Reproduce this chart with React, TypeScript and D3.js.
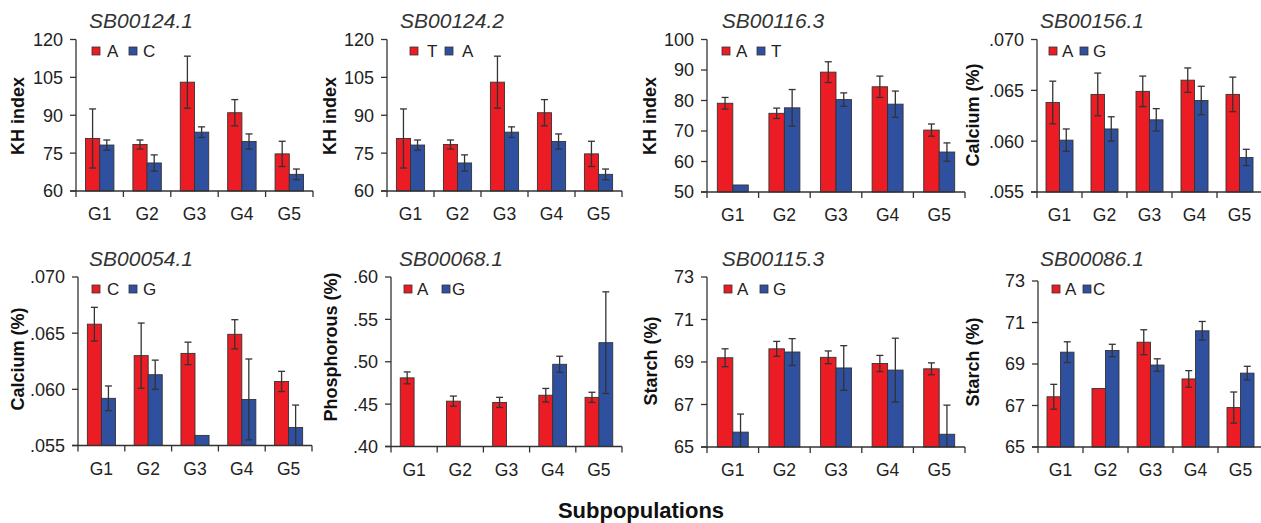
import React from 'react';
import * as d3 from 'd3';

const groups = ['G1', 'G2', 'G3', 'G4', 'G5'];

// SB00124.1 / SB00124.2 (KH index)
const kh124Red = [80.8, 78.4, 103.1, 91.0, 74.7];
const kh124RedErr = [11.7, 1.8, 10.3, 5.2, 5.0];
const kh124Blue = [78.2, 71.1, 83.3, 79.6, 66.6];
const kh124BlueErr = [2.0, 3.2, 2.1, 3.0, 2.1];

// SB00116.3 (KH index)
const kh116Red = [79.1, 75.8, 89.3, 84.5, 70.3];
const kh116RedErr = [1.9, 1.7, 3.4, 3.5, 2.0];
const kh116Blue = [52.3, 77.6, 80.3, 78.8, 63.1];
const kh116BlueErr = [0, 6.0, 2.2, 4.3, 3.0];

// SB00156.1 (calcium)
const ca156Red = [0.0638, 0.0646, 0.0649, 0.066, 0.0646];
const ca156RedErr = [0.0021, 0.0021, 0.0015, 0.0012, 0.0017];
const ca156Blue = [0.0601, 0.0612, 0.0621, 0.064, 0.0584];
const ca156BlueErr = [0.0011, 0.0012, 0.0011, 0.0014, 0.0008];

// SB00054.1 (calcium)
const ca054Red = [0.0658, 0.063, 0.0632, 0.0649, 0.0607];
const ca054RedErr = [0.0015, 0.0029, 0.001, 0.0013, 0.0009];
const ca054Blue = [0.0592, 0.0613, 0.0559, 0.0591, 0.0566];
const ca054BlueErr = [0.0011, 0.0013, 0, 0.0036, 0.002];

// SB00068.1 (phosphorous)
const p068Red = [0.481, 0.4535, 0.452, 0.4605, 0.458];
const p068RedErr = [0.007, 0.006, 0.006, 0.008, 0.006];
const p068Blue = [null, null, null, 0.497, 0.5225];
const p068BlueErr = [0, 0, 0, 0.0095, 0.06];

// SB00115.3 (starch)
const st115Red = [69.2, 69.62, 69.22, 68.93, 68.68];
const st115RedErr = [0.42, 0.35, 0.3, 0.38, 0.28];
const st115Blue = [65.7, 69.47, 68.72, 68.62, 65.6];
const st115BlueErr = [0.85, 0.63, 1.05, 1.5, 1.37];

// SB00086.1 (starch)
const st086Red = [67.42, 67.82, 70.05, 68.28, 66.9];
const st086RedErr = [0.6, 0, 0.6, 0.4, 0.75];
const st086Blue = [69.57, 69.65, 68.95, 70.6, 68.56];
const st086BlueErr = [0.5, 0.3, 0.3, 0.45, 0.33];

const khTicks = [60, 75, 90, 105, 120];
const kh116Ticks = [50, 60, 70, 80, 90, 100];
const caTicks = [0.055, 0.06, 0.065, 0.07];
const pTicks = [0.4, 0.45, 0.5, 0.55, 0.6];
const stTicks = [65, 67, 69, 71, 73];

const RED = '#ec1c24';
const BLUE = '#2f4f9f';
const INK = '#333';
const FONT = 'Liberation Sans, Arial, sans-serif';

const fmtInt = (d: number) => String(d);
const fmtCa = (d: number) => d3.format('.3f')(d).replace(/^0/, '');
const fmtP = (d: number) => d3.format('.2f')(d).replace(/^0/, '');

const panels = [
  { title: 'SB00124.1', ylab: 'KH index', alleles: ['A', 'C'], red: kh124Red, redErr: kh124RedErr, blue: kh124Blue, blueErr: kh124BlueErr, ticks: khTicks, fmt: fmtInt,
    x0: 76, x1: 313, top: 39.5, bottom: 191, tx: 141, lx: 18, ly: 116, leg: [16, 31, 53, 67] },
  { title: 'SB00124.2', ylab: 'KH index', alleles: ['T', 'A'], red: kh124Red, redErr: kh124RedErr, blue: kh124Blue, blueErr: kh124BlueErr, ticks: khTicks, fmt: fmtInt,
    x0: 387, x1: 622, top: 39.5, bottom: 191, tx: 452, lx: 330, ly: 116, leg: [23, 40, 58, 75] },
  { title: 'SB00116.3', ylab: 'KH index', alleles: ['A', 'T'], red: kh116Red, redErr: kh116RedErr, blue: kh116Blue, blueErr: kh116BlueErr, ticks: kh116Ticks, fmt: fmtInt,
    x0: 707, x1: 965, top: 39.5, bottom: 192, tx: 773, lx: 650, ly: 116, leg: [15, 29, 50, 64] },
  { title: 'SB00156.1', ylab: 'Calcium  (%)', alleles: ['A', 'G'], red: ca156Red, redErr: ca156RedErr, blue: ca156Blue, blueErr: ca156BlueErr, ticks: caTicks, fmt: fmtCa,
    x0: 1037, x1: 1262, top: 39.5, bottom: 192, tx: 1092, lx: 973, ly: 115, leg: [12, 25, 43, 56] },
  { title: 'SB00054.1', ylab: 'Calcium  (%)', alleles: ['C', 'G'], red: ca054Red, redErr: ca054RedErr, blue: ca054Blue, blueErr: ca054BlueErr, ticks: caTicks, fmt: fmtCa,
    x0: 78, x1: 312, top: 277, bottom: 445.5, tx: 141, lx: 18, ly: 359, leg: [14, 29, 51, 65] },
  { title: 'SB00068.1', ylab: 'Phosphorous (%)', alleles: ['A', 'G'], red: p068Red, redErr: p068RedErr, blue: p068Blue, blueErr: p068BlueErr, ticks: pTicks, fmt: fmtP,
    x0: 391, x1: 622, top: 277, bottom: 446.5, tx: 451, lx: 331, ly: 347, leg: [13, 26, 51, 61] },
  { title: 'SB00115.3', ylab: 'Starch (%)', alleles: ['A', 'G'], red: st115Red, redErr: st115RedErr, blue: st115Blue, blueErr: st115BlueErr, ticks: stTicks, fmt: fmtInt,
    x0: 707, x1: 965, top: 277, bottom: 447, tx: 773, lx: 651, ly: 361, leg: [17, 30, 53, 66] },
  { title: 'SB00086.1', ylab: 'Starch (%)', alleles: ['A', 'C'], red: st086Red, redErr: st086RedErr, blue: st086Blue, blueErr: st086BlueErr, ticks: stTicks, fmt: fmtInt,
    x0: 1038, x1: 1263, top: 281, bottom: 447, tx: 1092, lx: 973, ly: 362, leg: [14, 27, 45, 55] },
];

function Panel({ p, row }: { p: any; row: number }) {
  const y = d3.scaleLinear().domain([p.ticks[0], p.ticks[p.ticks.length - 1]]).range([p.bottom, p.top]);
  const x = d3.scaleBand().domain(groups).range([p.x0, p.x1]).paddingInner(0.4).paddingOuter(0.2);
  const inner = d3.scaleBand().domain(['red', 'blue']).range([0, x.bandwidth()]);
  const step = (p.x1 - p.x0) / groups.length;
  const [lo, hi] = y.domain();
  const series = [
    { key: 'red', vals: p.red, errs: p.redErr, color: RED },
    { key: 'blue', vals: p.blue, errs: p.blueErr, color: BLUE },
  ];
  const titleY = row === 0 ? 28 : 266;
  const legY = row === 0 ? 47 : 285;
  return (
    <g>
      <text x={p.tx} y={titleY} textAnchor="middle" fontStyle="italic" fontSize={21} fill="#333">{p.title}</text>
      <text transform={`translate(${p.lx},${p.ly}) rotate(-90)`} textAnchor="middle" dominantBaseline="central"
        fontWeight="bold" fontSize={18} fill="#111">{p.ylab}</text>
      {series.map(s => groups.map((g, i) => {
        const v = s.vals[i];
        if (v == null || v <= lo) return null;
        const bx = (x(g) as number) + (inner(s.key) as number);
        return (
          <rect key={s.key + g} x={bx} y={y(v)} width={inner.bandwidth()} height={p.bottom - y(v)}
            fill={s.color} stroke={INK} strokeWidth={0.9} />
        );
      }))}
      {series.map(s => groups.map((g, i) => {
        const v = s.vals[i];
        const e = s.errs[i];
        if (v == null || !e) return null;
        const cx = (x(g) as number) + (inner(s.key) as number) + inner.bandwidth() / 2;
        const y1 = y(Math.min(v + e, hi));
        const y2 = y(Math.max(v - e, lo));
        return (
          <g key={'e' + s.key + g} stroke={INK} strokeWidth={1.3}>
            <line x1={cx} x2={cx} y1={y1} y2={y2} />
            <line x1={cx - 3.5} x2={cx + 3.5} y1={y1} y2={y1} />
            {v - e > lo && <line x1={cx - 3.5} x2={cx + 3.5} y1={y2} y2={y2} />}
          </g>
        );
      }))}
      <line x1={p.x0} x2={p.x0} y1={p.top} y2={p.bottom} stroke={INK} strokeWidth={1.3} />
      <line x1={p.x0 - 6} x2={p.x1} y1={p.bottom} y2={p.bottom} stroke={INK} strokeWidth={1.3} />
      {p.ticks.map((t: number) => (
        <g key={'t' + t}>
          <line x1={p.x0 - 6} x2={p.x0} y1={y(t)} y2={y(t)} stroke={INK} strokeWidth={1.3} />
          <text x={p.x0 - 13} y={y(t)} dy="0.36em" textAnchor="end" fontSize={18} fill="#222">{p.fmt(t)}</text>
        </g>
      ))}
      {d3.range(groups.length + 1).map(k => (
        <line key={'xt' + k} x1={p.x0 + k * step} x2={p.x0 + k * step} y1={p.bottom} y2={p.bottom + 6}
          stroke={INK} strokeWidth={1.3} />
      ))}
      {groups.map(g => (
        <text key={'xl' + g} x={(x(g) as number) + x.bandwidth() / 2} y={p.bottom + 29} textAnchor="middle"
          fontSize={17.5} fill="#222">{g}</text>
      ))}
      <rect x={p.x0 + p.leg[0]} y={legY} width={8} height={8} fill={RED} stroke={INK} strokeWidth={0.8} />
      <text x={p.x0 + p.leg[1]} y={legY + 9.5} fontSize={17} fill="#222">{p.alleles[0]}</text>
      <rect x={p.x0 + p.leg[2]} y={legY} width={8} height={8} fill={BLUE} stroke={INK} strokeWidth={0.8} />
      <text x={p.x0 + p.leg[3]} y={legY + 9.5} fontSize={17} fill="#222">{p.alleles[1]}</text>
    </g>
  );
}

export default function App() {
  return (
    <svg width={1261} height={523} style={{ position: 'absolute', left: 0, top: 0, background: '#fff' }}
      fontFamily={FONT}>
      {panels.map((p, i) => <Panel key={p.title} p={p} row={i < 4 ? 0 : 1} />)}
      <text x={641} y={518} textAnchor="middle" fontWeight="bold" fontSize={22} fill="#111">Subpopulations</text>
    </svg>
  );
}
